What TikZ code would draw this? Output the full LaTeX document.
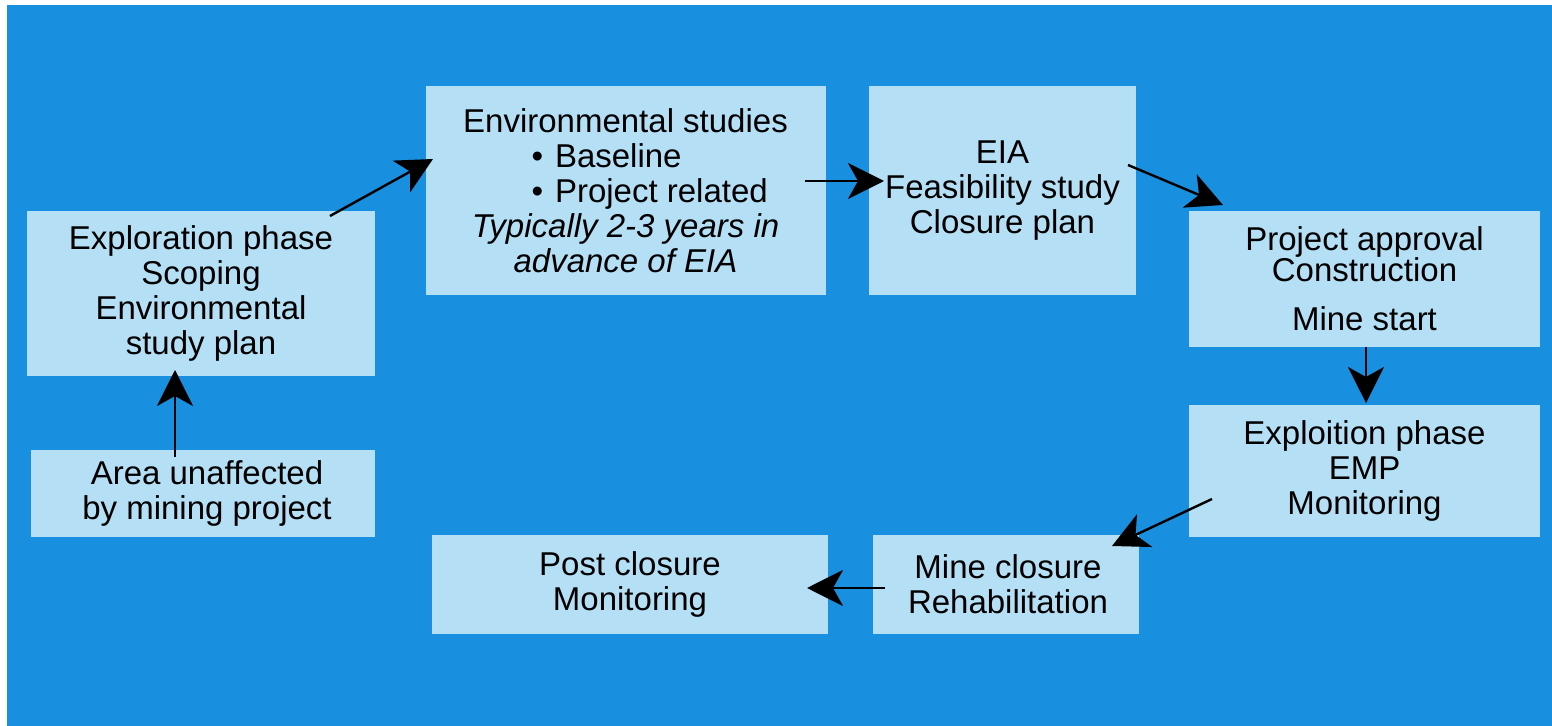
\documentclass[tikz,border=0pt]{standalone}
\usepackage{fontspec}
\setmainfont{Liberation Sans}
\usetikzlibrary{arrows.meta}
\definecolor{bgblue}{RGB}{24,144,223}
\definecolor{boxblue}{RGB}{180,223,245}
\tikzset{
  box/.style={fill=boxblue, inner sep=0pt, align=center, text=black,
    font=\fontsize{16.5}{17.5}\selectfont},
  arr/.style={draw=black, line width=1.4pt, -{Stealth[length=18pt,width=18pt,inset=5pt]}},
}
\begin{document}
\begin{tikzpicture}[x=0.5pt,y=-0.5pt]
\useasboundingbox (0,0) rectangle (1552,726);
\fill[bgblue] (7,5) rectangle (1552,726);

\node[box, minimum width=174pt, minimum height=82.5pt] (expl) at (201,293.5)
  {Exploration phase\\Scoping\\Environmental\\study plan};
\node[box, minimum width=172pt, minimum height=43.5pt] (area) at (203,493.5)
  {\hspace*{4pt}Area unaffected\\\hspace*{4pt}by mining project};
\node[box, minimum width=197.5pt, minimum height=104.5pt] (env) at (625.5,190.5)
  {Environmental studies\\
   \makebox[200pt][l]{\hspace*{53pt}\textbullet\hspace{6pt}Baseline}\\
   \makebox[200pt][l]{\hspace*{53pt}\textbullet\hspace{6pt}Project related}\\
   \textit{Typically 2-3 years in}\\
   \textit{advance of EIA}};
\node[box, minimum width=133.5pt, minimum height=104.5pt] (eia) at (1002.5,190.5)
  {EIA\\Feasibility study\\Closure plan};
\node[box, minimum width=175.5pt, minimum height=68pt] (appr) at (1364.5,279)
  {Project approval\\[-2pt]Construction\\[7pt]Mine start};
\node[box, minimum width=175.5pt, minimum height=66pt] (expt) at (1364.5,471)
  {Exploition phase\\EMP\\Monitoring};
\node[box, minimum width=133pt, minimum height=49.5pt] (mclose) at (1006,584.5)
  {\hspace*{2pt}Mine closure\\\hspace*{2pt}Rehabilitation};
\node[box, minimum width=198pt, minimum height=49.5pt] (post) at (630,584.5)
  {Post closure\\Monitoring};

\coordinate (a1s) at (330,216);
\coordinate (a1e) at (433,159);
\coordinate (a2s) at (805,181);
\coordinate (a2e) at (884,181);
\coordinate (a3s) at (1128,165);
\coordinate (a3e) at (1223,205);
\coordinate (a4s) at (1366,347);
\coordinate (a4e) at (1366,403);
\coordinate (a5s) at (1212,499);
\coordinate (a5e) at (1112,546);
\coordinate (a6s) at (885,588);
\coordinate (a6e) at (807,588);
\coordinate (a7s) at (175,457);
\coordinate (a7e) at (175,370);

\draw[arr, line width=1.2pt] (a1s) -- (a1e);
\draw[arr] (a2s) -- (a2e);
\draw[arr, line width=1.2pt] (a3s) -- (a3e);
\draw[arr] (a4s) -- (a4e);
\draw[arr, line width=1.2pt] (a5s) -- (a5e);
\draw[arr] (a6s) -- (a6e);
\draw[arr] (a7s) -- (a7e);
\end{tikzpicture}
\end{document}
